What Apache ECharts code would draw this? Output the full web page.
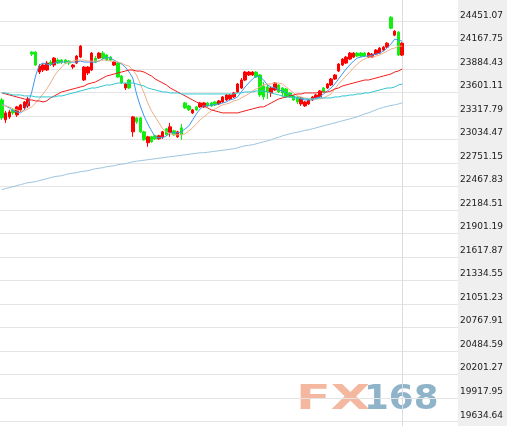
<!DOCTYPE html>
<html>
<head>
<meta charset="utf-8">
<script src="https://cdn.jsdelivr.net/npm/echarts@6.0.0/dist/echarts.min.js"></script>
<style>html,body{margin:0;padding:0;background:#fff}#c{width:507px;height:426px}</style>
</head>
<body>
<div id="c"></div>
<script>
// Candles: [open, close, low, high]
const candles = [
  [23509,23293,23269,23533],[23269,23353,23233,23377],[23305,23365,23281,23389],[23389,23353,23329,23413],[23329,23425,23305,23437],
  [23389,23449,23365,23461],[23413,23485,23389,23497],[23437,23521,23413,23545],[24085,24061,24037,24097],[24085,23929,23917,24097],
  [23845,23917,23821,23941],[23869,23929,23845,23953],[23869,23953,23857,23977],[23965,23941,23917,23989],[23929,24013,23905,24025],
  [23989,23953,23941,24013],[23989,23965,23941,24001],[23989,23953,23941,24001],[23977,23953,23929,23989],[23905,23929,23881,23941],
  [23953,24037,23941,24049],[24025,24157,24013,24169],[23749,23905,23737,23917],[23833,23905,23809,23917],[23869,24073,23857,24085],
  [24013,23965,23953,24037],[24013,24073,24001,24085],[24073,24013,24001,24097],[24049,23989,23977,24061],[24025,23989,23977,24037],
  [23929,23965,23917,23977],[23953,23785,23773,23965],[23797,23713,23701,23809],[23653,23701,23629,23713],[23749,23653,23641,23761],
  [23125,23305,23065,23317],[23293,23245,23221,23305],[23293,23125,23113,23305],[23125,23029,23017,23137],[22993,23065,22945,23077],
  [23065,23005,22993,23077],[23077,23041,23029,23089],[23041,23077,23029,23089],[23065,23125,23041,23137],[23161,23089,23077,23173],
  [23113,23185,23065,23233],[23137,23089,23077,23149],[23065,23125,23053,23137],[23173,23089,23029,23221],[23473,23413,23401,23485],
  [23437,23389,23377,23449],[23353,23389,23341,23401],[23425,23389,23377,23437],[23425,23473,23413,23485],[23425,23473,23413,23485],
  [23473,23437,23425,23485],[23473,23437,23425,23485],[23485,23449,23437,23497],[23461,23497,23449,23509],[23485,23545,23473,23557],
  [23509,23569,23497,23581],[23521,23569,23509,23581],[23545,23593,23533,23605],[23605,23701,23593,23713],[23653,23749,23641,23773],
  [23749,23845,23737,23857],[23809,23845,23797,23857],[23809,23845,23797,23857],[23845,23785,23773,23857],[23809,23569,23545,23821],
  [23677,23545,23509,23725],[23665,23605,23521,23689],[23593,23653,23545,23665],[23629,23713,23617,23725],[23689,23605,23593,23701],
  [23653,23593,23545,23665],[23641,23545,23533,23653],[23593,23545,23533,23605],[23557,23509,23497,23569],[23545,23485,23461,23557],
  [23461,23533,23437,23545],[23437,23485,23425,23497],[23461,23509,23449,23521],[23509,23545,23497,23557],[23533,23569,23521,23581],
  [23545,23617,23533,23629],[23653,23605,23593,23665],[23653,23701,23641,23713],[23689,23761,23677,23773],[23761,23809,23749,23821],
  [23857,23941,23845,23953],[23929,24001,23917,24013],[23953,24025,23941,24037],[24001,24073,23989,24085],[24025,24073,24013,24085],
  [24073,24037,24025,24085],[24073,24037,24025,24085],[24073,24037,24025,24085],[24025,24073,24013,24085],[24025,24061,24013,24073],
  [24061,24109,24049,24121],[24073,24133,24061,24145],[24109,24145,24097,24157],[24145,24193,24133,24205],[24505,24373,24361,24517],
  [24289,24337,24277,24349],[24325,24049,24037,24337],[24049,24193,24037,24205]
];
const ma5 = [
  23461,23437,23413,23377,23365,23353,23389,23461,23605,23797,
  23929,23953,23941,23929,23953,23965,23965,23965,23965,23965,
  23965,23977,23965,23965,23965,23965,23977,24001,24025,24013,
  23989,23965,23941,23905,23845,23773,23581,23437,23317,23221,
  23137,23065,23053,23053,23077,23113,23113,23113,23125,23161,
  23197,23269,23341,23401,23437,23437,23449,23449,23461,23473,
  23485,23509,23521,23545,23605,23665,23713,23761,23797,23785,
  23749,23689,23665,23653,23629,23617,23593,23569,23557,23533,
  23521,23509,23509,23509,23533,23545,23581,23617,23653,23701,
  23761,23821,23881,23929,23977,24013,24025,24037,24037,24049,
  24061,24073,24097,24133,24181,24241,24229,24217
];
const ma10 = [
  23449,23437,23425,23401,23389,23377,23377,23401,23425,23473,
  23521,23581,23641,23713,23797,23857,23905,23953,23965,23977,
  23989,23989,23989,23977,23977,23977,23977,23989,23989,23977,
  23977,23965,23953,23929,23917,23869,23809,23701,23593,23473,
  23377,23305,23233,23161,23125,23101,23089,23089,23089,23101,
  23137,23173,23221,23269,23305,23341,23377,23401,23425,23449,
  23461,23473,23497,23509,23533,23557,23581,23617,23641,23665,
  23689,23701,23701,23713,23713,23701,23665,23629,23593,23557,
  23545,23533,23521,23521,23521,23521,23533,23557,23581,23641,
  23701,23749,23797,23845,23893,23941,23977,24001,24025,24025,
  24037,24049,24073,24097,24121,24133,24157,24157
];
const ma20 = [
  23593,23581,23569,23557,23545,23533,23521,23509,23509,23497,
  23497,23485,23497,23533,23557,23581,23605,23617,23629,23641,
  23653,23665,23677,23701,23713,23725,23749,23773,23797,23809,
  23821,23833,23845,23857,23869,23869,23857,23857,23845,23821,
  23797,23761,23737,23713,23689,23653,23629,23605,23581,23557,
  23533,23509,23485,23461,23437,23413,23389,23377,23365,23353,
  23353,23353,23353,23353,23365,23377,23389,23401,23413,23425,
  23425,23449,23473,23497,23521,23533,23545,23557,23569,23581,
  23581,23593,23593,23593,23593,23605,23605,23605,23617,23641,
  23653,23677,23689,23701,23713,23725,23737,23749,23749,23761,
  23773,23785,23797,23809,23821,23845,23857,23881
];
const ma30 = [
  23593,23593,23581,23569,23569,23569,23557,23557,23557,23545,
  23545,23545,23545,23545,23545,23557,23557,23569,23581,23593,
  23605,23617,23629,23641,23653,23653,23665,23677,23689,23689,
  23701,23713,23713,23713,23713,23713,23701,23689,23677,23653,
  23641,23629,23617,23605,23605,23593,23593,23593,23581,23581,
  23581,23581,23581,23581,23581,23581,23581,23581,23581,23581,
  23581,23581,23581,23593,23593,23605,23605,23605,23617,23617,
  23617,23605,23593,23581,23569,23557,23545,23545,23533,23533,
  23533,23521,23521,23521,23521,23533,23533,23533,23533,23545,
  23545,23557,23557,23569,23569,23581,23581,23593,23593,23605,
  23617,23629,23641,23653,23653,23665,23689,23701
];
const maLong = [
  22429,22441,22453,22465,22477,22489,22501,22513,22519,22525,
  22537,22549,22561,22573,22585,22591,22597,22609,22621,22627,
  22633,22645,22651,22657,22669,22681,22687,22693,22705,22711,
  22717,22729,22735,22741,22753,22765,22771,22777,22783,22789,
  22795,22801,22807,22813,22819,22825,22831,22837,22843,22849,
  22855,22861,22867,22873,22873,22879,22885,22891,22897,22903,
  22909,22915,22921,22933,22945,22957,22963,22969,22981,22993,
  23005,23017,23029,23047,23059,23077,23089,23101,23113,23119,
  23131,23143,23149,23161,23173,23185,23197,23209,23221,23233,
  23245,23257,23269,23281,23293,23305,23323,23341,23353,23371,
  23389,23407,23419,23431,23443,23449,23461,23473
];
// Y tick labels, bottom to top
const yTickLabels = [
  '19634.64','19917.95','20201.27','20484.59','20767.91','21051.23','21334.55','21617.87','21901.19',
  '22184.51','22467.83','22751.15','23034.47','23317.79','23601.11','23884.43','24167.75','24451.07'
];
const yMin = 19634.64, yMax = 24451.07;
const categories = candles.map((_, i) => String(i + 1));

const chart = echarts.init(document.getElementById('c'), null, {renderer: 'canvas'});
const lineSeries = (name, data, color) => ({
  name, type: 'line', xAxisIndex: 0, yAxisIndex: 0, data,
  showSymbol: false, symbol: 'none', smooth: false, z: 4,
  lineStyle: {color, width: 1}, silent: true
});
chart.setOption({
  animation: false,
  backgroundColor: '#ffffff',
  grid: [
    {left: 0, top: 21.7, width: 404, bottom: 4.3},
    {left: 0, right: 49, top: 21.7, bottom: 4.3},
    {left: 0, width: 402, top: 0, bottom: 0},
    {left: 458, right: 0, top: 0, bottom: 0, show: true, backgroundColor: '#efefef', borderWidth: 0, z: -5}
  ],
  xAxis: [
    {type: 'category', gridIndex: 0, data: categories, show: false},
    {type: 'value', gridIndex: 1, show: false},
    {type: 'value', gridIndex: 2, show: false},
    {type: 'value', gridIndex: 3, show: false}
  ],
  yAxis: [
    {type: 'value', gridIndex: 0, min: yMin, max: yMax, show: false},
    {type: 'value', gridIndex: 1, min: 0, max: yTickLabels.length - 1, interval: 1, position: 'right',
     axisLine: {show: false}, axisTick: {show: false},
     splitLine: {show: true, lineStyle: {color: '#e4e4e4', width: 1}},
     axisLabel: {show: true, showMinLabel: true, showMaxLabel: true, margin: 2, color: '#1a1a1a',
       fontFamily: 'DejaVu Sans', fontSize: 9, verticalAlign: 'bottom', lineHeight: 13,
       formatter: v => yTickLabels[Math.round(v)]}},
    {type: 'value', gridIndex: 2, position: 'right',
     axisLine: {show: true, onZero: false, lineStyle: {color: '#dcdcdc', width: 1}},
     axisTick: {show: false}, axisLabel: {show: false}, splitLine: {show: false}},
    {type: 'value', gridIndex: 3, show: false}
  ],
  graphic: [
    {type: 'text', x: 296, y: 383, scaleX: 1.5, z: -10, silent: true,
     style: {text: 'FX', fill: '#f4b8a0', font: 'bold 34px "DejaVu Sans"', verticalAlign: 'top'}},
    {type: 'text', x: 364, y: 383, scaleX: 1.05, z: -10, silent: true,
     style: {text: '168', fill: '#8fb3c8', font: 'bold 34px "DejaVu Sans"', verticalAlign: 'top'}}
  ],
  series: [
    {type: 'candlestick', xAxisIndex: 0, yAxisIndex: 0, data: candles, barWidth: 3, z: 3, silent: true,
     itemStyle: {color: '#ff0000', color0: '#11ee11', borderColor: '#ff0000', borderColor0: '#11ee11', borderWidth: 1}},
    lineSeries('MA5', ma5, '#3d98f2'),
    lineSeries('MA10', ma10, '#efb088'),
    lineSeries('MA20', ma20, '#f01c1c'),
    lineSeries('MA30', ma30, '#2fc6d2'),
    lineSeries('MA120', maLong, '#9cc5df')
  ]
});
</script>
</body>
</html>
